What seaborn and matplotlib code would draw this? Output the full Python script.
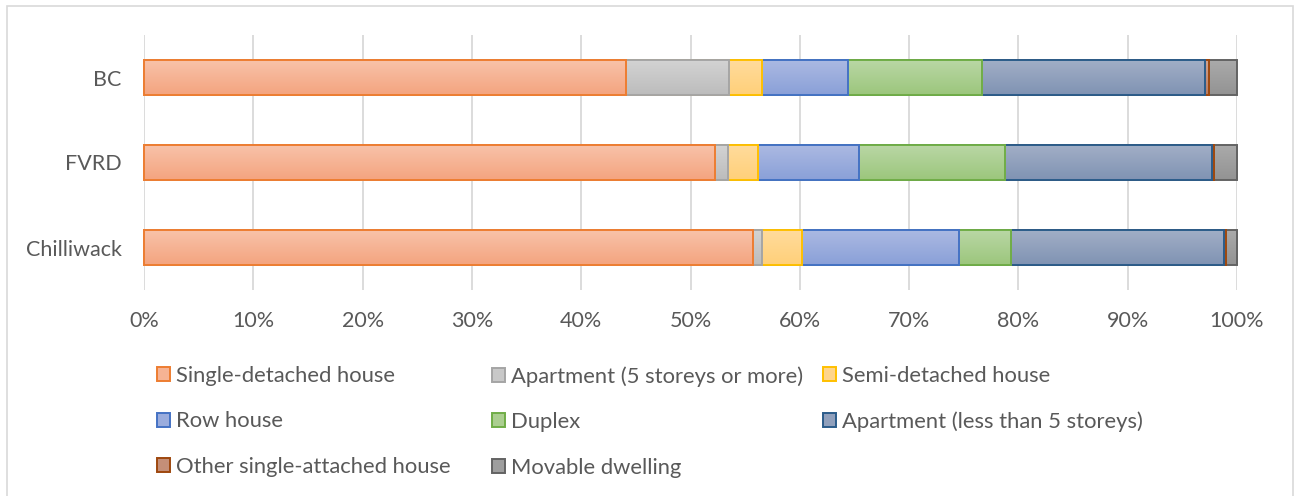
import numpy as np
import pandas as pd
import matplotlib
matplotlib.use("Agg")
import matplotlib.pyplot as plt
import matplotlib.colors as mcolors
from matplotlib.patches import Patch, Rectangle
import seaborn as sns

# Share of occupied private dwellings by structural type (%)
regions = ["BC", "FVRD", "Chilliwack"]
dwelling_types = [
    "Single-detached house",
    "Apartment (5 storeys or more)",
    "Semi-detached house",
    "Row house",
    "Duplex",
    "Apartment (less than 5 storeys)",
    "Other single-attached house",
    "Movable dwelling",
]
bc = [44.1, 9.4, 3.0, 7.9, 12.3, 20.4, 0.3, 2.6]
fvrd = [52.2, 1.2, 2.8, 9.2, 13.4, 18.9, 0.2, 2.1]
chilliwack = [55.7, 0.8, 3.7, 14.4, 4.7, 19.5, 0.2, 1.0]
tick_labels = ["0%", "10%", "20%", "30%", "40%", "50%", "60%", "70%", "80%", "90%", "100%"]

# Fill (top, bottom of gradient) and outline colours per dwelling type
fill_top = ["#F8C2A9", "#D3D3D3", "#FFDB9C", "#ABB9E2", "#B9D7A5", "#A1AEC6", "#D1A38F", "#AAAAAA"]
fill_bottom = ["#F4A47F", "#BCBCBC", "#FFD079", "#8AA0D8", "#9CC67C", "#8093B3", "#B87B61", "#939393"]
edge_colors = ["#ED7D31", "#A5A5A5", "#FFC000", "#4472C4", "#70AD47", "#2B5C8A", "#9E480E", "#636363"]

text_color = "#595959"

sns.set_theme(style="white")
plt.rcParams["font.family"] = ["Lato", "DejaVu Sans"]

rows = []
for region, vals in zip(regions, [bc, fvrd, chilliwack]):
    cum = np.cumsum(vals)
    for t, v, c in zip(dwelling_types, vals, cum):
        rows.append({"region": region, "type": t, "share": v, "cum": c})
df = pd.DataFrame(rows)

fig = plt.figure(figsize=(12.99, 4.96), dpi=100)
W, H = 1299, 496
ax = fig.add_axes([144 / W, 1 - 290 / H, 1093 / W, 255 / H])

# Stacked bars: draw cumulative totals from the last segment back to the first
order_idx = list(range(len(dwelling_types)))[::-1]
for k, i in enumerate(order_idx):
    sub = df[df["type"] == dwelling_types[i]]
    n_before = len(ax.patches)
    sns.barplot(data=sub, y="region", x="cum", order=regions, orient="h",
                color=fill_bottom[i], width=0.41, errorbar=None, ax=ax)
    new_patches = ax.patches[n_before:]
    grad = mcolors.LinearSegmentedColormap.from_list(
        f"g{i}", [fill_top[i], fill_bottom[i]])(np.linspace(0, 1, 64))[:, None, :3]
    for p in new_patches:
        z = 3 + 2 * k
        p.set_zorder(z + 1)
        p.set_edgecolor(edge_colors[i])
        p.set_linewidth(1.4)
        p.set_clip_on(False)
        x0, y0 = p.get_x(), p.get_y()
        w, h = p.get_width(), p.get_height()
        im = ax.imshow(grad, extent=(x0, x0 + w, y0 + h, y0), origin="upper",
                       aspect="auto", zorder=z, interpolation="bilinear")
        im.set_clip_path(p)
        p.set_facecolor("none")

ax.set_xlim(0, 100)
ax.set_ylim(2.5, -0.5)
ax.set_xticks(np.arange(0, 101, 10))
ax.set_xticklabels(tick_labels)
ax.set_xlabel("")
ax.set_ylabel("")
ax.set_axisbelow(True)
ax.xaxis.grid(True, color="#D9D9D9", linewidth=1.3)
ax.yaxis.grid(False)
for s in ax.spines.values():
    s.set_visible(False)
ax.tick_params(axis="x", length=0, pad=15, labelsize=15.5, labelcolor=text_color)
ax.tick_params(axis="y", length=0, pad=16, labelsize=15.5, labelcolor=text_color)

# Legend: three columns filled row by row
columns = [[0, 3, 6], [1, 4, 7], [2, 5]]
col_x = [157, 492, 823]
for col, xpix in zip(columns, col_x):
    handles = [Patch(facecolor=mcolors.to_hex(
        (np.array(mcolors.to_rgb(fill_top[i])) + np.array(mcolors.to_rgb(fill_bottom[i]))) / 2),
        edgecolor=edge_colors[i], linewidth=1.4, label=dwelling_types[i]) for i in col]
    leg = fig.legend(handles=handles, loc="upper left",
                     bbox_to_anchor=(xpix / W, 1 - 366 / H), frameon=False,
                     fontsize=15.8, handlelength=0.6, handleheight=0.6,
                     handletextpad=0.25, labelspacing=1.16, borderpad=0,
                     borderaxespad=0)
    for t in leg.get_texts():
        t.set_color(text_color)

# Chart border
fig.patches.append(Rectangle((7 / W, -4 / H), 1286 / W, 494 / H, transform=fig.transFigure,
                             fill=False, edgecolor="#D9D9D9", linewidth=1.2))

fig.savefig("out.png", dpi=100)
